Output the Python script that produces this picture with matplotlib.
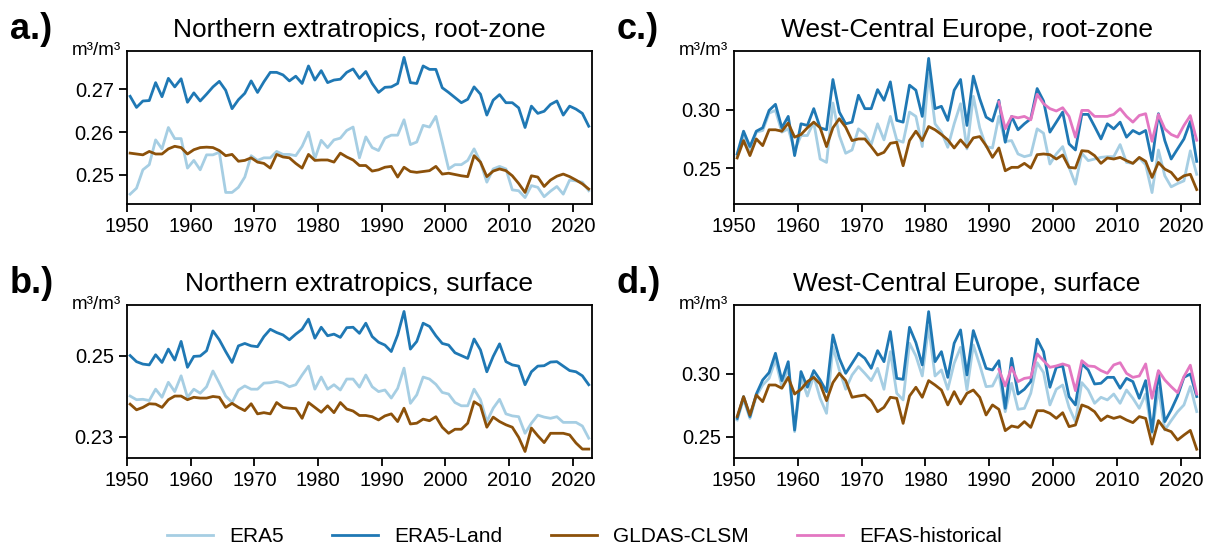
import matplotlib
matplotlib.use('Agg')
import matplotlib.pyplot as plt
import numpy as np
from matplotlib.ticker import FormatStrFormatter

plt.rcParams['font.family'] = ['Liberation Sans', 'DejaVu Sans']

years = np.arange(1950, 2023)
efas_years = np.arange(1991, 2023)

# a.) Northern extratropics, root-zone
ne_rz_era5 = [0.2455, 0.2469, 0.2512, 0.2524, 0.2582, 0.2561, 0.2611, 0.2585, 0.2585, 0.2516,
              0.2534, 0.2512, 0.2547, 0.2547, 0.2553, 0.2459, 0.2459, 0.2471, 0.2495, 0.2545,
              0.2534, 0.2540, 0.2540, 0.2555, 0.2548, 0.2548, 0.2545, 0.2567, 0.2600, 0.2538,
              0.2581, 0.2564, 0.2582, 0.2586, 0.2604, 0.2612, 0.2540, 0.2589, 0.2564, 0.2557,
              0.2586, 0.2593, 0.2593, 0.2629, 0.2571, 0.2577, 0.2616, 0.2612, 0.2637, 0.2577,
              0.2514, 0.2524, 0.2524, 0.2534, 0.2561, 0.2530, 0.2483, 0.2514, 0.2520, 0.2514,
              0.2465, 0.2463, 0.2447, 0.2475, 0.2471, 0.2449, 0.2462, 0.2473, 0.2455, 0.2488,
              0.2486, 0.2483, 0.2463]
ne_rz_land = [0.2684, 0.2658, 0.2673, 0.2674, 0.2716, 0.2683, 0.2726, 0.2706, 0.2725, 0.2670,
              0.2692, 0.2673, 0.2689, 0.2706, 0.2719, 0.2698, 0.2655, 0.2676, 0.2691, 0.2720,
              0.2693, 0.2718, 0.2740, 0.2740, 0.2734, 0.2720, 0.2731, 0.2714, 0.2755, 0.2722,
              0.2744, 0.2716, 0.2722, 0.2724, 0.2740, 0.2748, 0.2726, 0.2742, 0.2714, 0.2693,
              0.2705, 0.2706, 0.2714, 0.2775, 0.2716, 0.2714, 0.2755, 0.2747, 0.2747, 0.2704,
              0.2693, 0.2681, 0.2669, 0.2677, 0.2706, 0.2689, 0.2640, 0.2675, 0.2688, 0.2669,
              0.2669, 0.2657, 0.2611, 0.2661, 0.2644, 0.2649, 0.2665, 0.2673, 0.2640, 0.2661,
              0.2654, 0.2644, 0.2614]
ne_rz_gldas = [0.2551, 0.2549, 0.2547, 0.2555, 0.2549, 0.2549, 0.2561, 0.2567, 0.2564, 0.2549,
               0.2559, 0.2564, 0.2565, 0.2564, 0.2557, 0.2545, 0.2548, 0.2532, 0.2534, 0.2540,
               0.2530, 0.2527, 0.2516, 0.2548, 0.2542, 0.2540, 0.2527, 0.2516, 0.2548, 0.2534,
               0.2535, 0.2535, 0.2530, 0.2551, 0.2542, 0.2535, 0.2522, 0.2522, 0.2509, 0.2512,
               0.2518, 0.2520, 0.2495, 0.2518, 0.2508, 0.2506, 0.2508, 0.2510, 0.2520, 0.2502,
               0.2504, 0.2501, 0.2498, 0.2496, 0.2545, 0.2530, 0.2496, 0.2509, 0.2514, 0.2510,
               0.2498, 0.2480, 0.2459, 0.2498, 0.2495, 0.2473, 0.2488, 0.2497, 0.2502, 0.2496,
               0.2488, 0.2479, 0.2467]

# b.) Northern extratropics, surface
ne_sf_era5 = [0.2400, 0.2391, 0.2392, 0.2389, 0.2417, 0.2397, 0.2434, 0.2411, 0.2450, 0.2397,
              0.2417, 0.2407, 0.2423, 0.2462, 0.2432, 0.2400, 0.2384, 0.2415, 0.2425, 0.2417,
              0.2417, 0.2432, 0.2433, 0.2436, 0.2432, 0.2423, 0.2428, 0.2452, 0.2474, 0.2417,
              0.2447, 0.2417, 0.2428, 0.2415, 0.2442, 0.2442, 0.2422, 0.2452, 0.2423, 0.2411,
              0.2415, 0.2395, 0.2419, 0.2469, 0.2382, 0.2403, 0.2447, 0.2442, 0.2429, 0.2409,
              0.2405, 0.2384, 0.2376, 0.2376, 0.2417, 0.2391, 0.2337, 0.2370, 0.2392, 0.2356,
              0.2351, 0.2349, 0.2308, 0.2333, 0.2353, 0.2348, 0.2345, 0.2349, 0.2335, 0.2335,
              0.2335, 0.2326, 0.2296]
ne_sf_land = [0.2500, 0.2485, 0.2479, 0.2477, 0.2502, 0.2483, 0.2516, 0.2489, 0.2535, 0.2471,
              0.2498, 0.2499, 0.2512, 0.2561, 0.2539, 0.2510, 0.2483, 0.2524, 0.2530, 0.2524,
              0.2522, 0.2547, 0.2565, 0.2557, 0.2551, 0.2539, 0.2553, 0.2565, 0.2590, 0.2543,
              0.2570, 0.2549, 0.2553, 0.2545, 0.2569, 0.2570, 0.2555, 0.2580, 0.2547, 0.2533,
              0.2526, 0.2510, 0.2551, 0.2609, 0.2516, 0.2535, 0.2580, 0.2572, 0.2549, 0.2530,
              0.2526, 0.2507, 0.2500, 0.2493, 0.2541, 0.2514, 0.2460, 0.2498, 0.2529, 0.2485,
              0.2477, 0.2474, 0.2428, 0.2460, 0.2474, 0.2475, 0.2484, 0.2485, 0.2474, 0.2463,
              0.2460, 0.2450, 0.2428]
ne_sf_gldas = [0.2380, 0.2366, 0.2372, 0.2381, 0.2380, 0.2372, 0.2391, 0.2400, 0.2400, 0.2391,
               0.2397, 0.2395, 0.2395, 0.2399, 0.2397, 0.2372, 0.2382, 0.2372, 0.2364, 0.2381,
               0.2356, 0.2359, 0.2356, 0.2384, 0.2372, 0.2370, 0.2369, 0.2345, 0.2384, 0.2372,
               0.2360, 0.2376, 0.2359, 0.2384, 0.2368, 0.2363, 0.2352, 0.2352, 0.2349, 0.2341,
               0.2351, 0.2356, 0.2337, 0.2370, 0.2331, 0.2333, 0.2343, 0.2339, 0.2349, 0.2323,
               0.2308, 0.2318, 0.2318, 0.2333, 0.2386, 0.2376, 0.2323, 0.2348, 0.2337, 0.2329,
               0.2323, 0.2298, 0.2263, 0.2321, 0.2302, 0.2285, 0.2308, 0.2308, 0.2308, 0.2304,
               0.2284, 0.2269, 0.2269]

# c.) West-Central Europe, root-zone
wce_rz_era5 = [0.2609, 0.2780, 0.2651, 0.2809, 0.2823, 0.2971, 0.2994, 0.2809, 0.2837, 0.2651,
               0.2780, 0.2780, 0.2894, 0.2580, 0.2551, 0.3057, 0.2780, 0.2629, 0.2657, 0.2837,
               0.2794, 0.2703, 0.2880, 0.2743, 0.2943, 0.2743, 0.2723, 0.2980, 0.2943, 0.2686,
               0.3309, 0.2880, 0.2809, 0.2680, 0.2880, 0.3051, 0.2666, 0.3114, 0.2846, 0.2686,
               0.2674, 0.2943, 0.2729, 0.2737, 0.2623, 0.2600, 0.2614, 0.2837, 0.2800, 0.2537,
               0.2623, 0.2686, 0.2509, 0.2366, 0.2629, 0.2566, 0.2580, 0.2594, 0.2600, 0.2600,
               0.2703, 0.2551, 0.2543, 0.2589, 0.2531, 0.2294, 0.2657, 0.2437, 0.2343, 0.2371,
               0.2394, 0.2650, 0.2450]
wce_rz_land = [0.2623, 0.2817, 0.2686, 0.2817, 0.2846, 0.2994, 0.3046, 0.2846, 0.2943, 0.2609,
               0.2880, 0.2866, 0.3009, 0.2846, 0.2829, 0.3257, 0.2980, 0.2880, 0.2894, 0.3123,
               0.3009, 0.3009, 0.3171, 0.3080, 0.3237, 0.2909, 0.2894, 0.3209, 0.3166, 0.2943,
               0.3437, 0.3009, 0.3029, 0.2909, 0.3166, 0.3257, 0.2866, 0.3286, 0.3094, 0.2937,
               0.2903, 0.3080, 0.2723, 0.2943, 0.2829, 0.2880, 0.2923, 0.3180, 0.3074, 0.2809,
               0.2894, 0.2980, 0.2709, 0.2657, 0.2960, 0.2960, 0.2857, 0.2751, 0.2880, 0.2837,
               0.2894, 0.2766, 0.2823, 0.2794, 0.2823, 0.2566, 0.2966, 0.2737, 0.2580, 0.2666,
               0.2751, 0.2900, 0.2560]
wce_rz_gldas = [0.2589, 0.2737, 0.2609, 0.2751, 0.2694, 0.2829, 0.2829, 0.2817, 0.2886, 0.2766,
                0.2789, 0.2846, 0.2894, 0.2846, 0.2686, 0.2846, 0.2923, 0.2851, 0.2737, 0.2751,
                0.2751, 0.2686, 0.2614, 0.2637, 0.2714, 0.2723, 0.2523, 0.2737, 0.2817, 0.2737,
                0.2857, 0.2829, 0.2789, 0.2743, 0.2674, 0.2743, 0.2680, 0.2760, 0.2771, 0.2694,
                0.2594, 0.2674, 0.2480, 0.2509, 0.2509, 0.2543, 0.2503, 0.2617, 0.2623, 0.2617,
                0.2580, 0.2614, 0.2509, 0.2503, 0.2651, 0.2646, 0.2609, 0.2543, 0.2589, 0.2580,
                0.2594, 0.2566, 0.2543, 0.2594, 0.2560, 0.2423, 0.2551, 0.2494, 0.2466, 0.2400,
                0.2437, 0.2450, 0.2320]
wce_rz_efas = [0.3066, 0.2837, 0.2943, 0.2931, 0.2943, 0.2914, 0.3131, 0.3051, 0.3009, 0.2989,
               0.3017, 0.2943, 0.2766, 0.2994, 0.2994, 0.2943, 0.2943, 0.2943, 0.2960, 0.3009,
               0.2943, 0.2894, 0.2951, 0.2966, 0.2731, 0.2960, 0.2837, 0.2789, 0.2766, 0.2866,
               0.2950, 0.2740]

# d.) West-Central Europe, surface
wce_sf_era5 = [0.2633, 0.2798, 0.2646, 0.2824, 0.2912, 0.2965, 0.3112, 0.2899, 0.3053, 0.2540,
               0.2973, 0.2824, 0.2984, 0.2806, 0.2686, 0.3218, 0.3032, 0.2878, 0.2992, 0.3059,
               0.3005, 0.2947, 0.3045, 0.2878, 0.3178, 0.2846, 0.2793, 0.3245, 0.3144, 0.2984,
               0.3378, 0.2984, 0.3032, 0.2878, 0.3085, 0.3213, 0.2872, 0.3231, 0.3072, 0.2899,
               0.2904, 0.3005, 0.2699, 0.2926, 0.2718, 0.2726, 0.2846, 0.3090, 0.3011, 0.2753,
               0.2878, 0.2912, 0.2734, 0.2620, 0.2931, 0.2872, 0.2766, 0.2814, 0.2793, 0.2840,
               0.2766, 0.2872, 0.2806, 0.2726, 0.2840, 0.2527, 0.2886, 0.2553, 0.2628, 0.2699,
               0.2753, 0.2900, 0.2700]
wce_sf_land = [0.2646, 0.2819, 0.2660, 0.2840, 0.2952, 0.3011, 0.3165, 0.2947, 0.3098, 0.2553,
               0.3019, 0.2894, 0.3027, 0.2952, 0.2859, 0.3311, 0.3125, 0.3005, 0.3085, 0.3165,
               0.3125, 0.3045, 0.3186, 0.3098, 0.3338, 0.2965, 0.2957, 0.3372, 0.3250, 0.3072,
               0.3497, 0.3098, 0.3178, 0.2973, 0.3245, 0.3351, 0.2992, 0.3346, 0.3197, 0.3045,
               0.3032, 0.3106, 0.2726, 0.3125, 0.2840, 0.2878, 0.2939, 0.3277, 0.3178, 0.2894,
               0.3053, 0.3064, 0.2819, 0.2753, 0.3080, 0.3032, 0.2920, 0.2926, 0.2973, 0.2973,
               0.2886, 0.2965, 0.2939, 0.2806, 0.2947, 0.2540, 0.3019, 0.2620, 0.2713, 0.2824,
               0.2973, 0.3000, 0.2820]
wce_sf_gldas = [0.2660, 0.2819, 0.2673, 0.2832, 0.2779, 0.2912, 0.2912, 0.2886, 0.2973, 0.2840,
                0.2878, 0.2939, 0.2973, 0.2920, 0.2787, 0.2931, 0.3005, 0.2947, 0.2814, 0.2824,
                0.2832, 0.2787, 0.2699, 0.2734, 0.2814, 0.2806, 0.2606, 0.2824, 0.2894, 0.2814,
                0.2947, 0.2912, 0.2872, 0.2753, 0.2859, 0.2761, 0.2846, 0.2872, 0.2814, 0.2673,
                0.2753, 0.2718, 0.2548, 0.2585, 0.2574, 0.2620, 0.2574, 0.2707, 0.2707, 0.2686,
                0.2646, 0.2691, 0.2580, 0.2593, 0.2753, 0.2734, 0.2699, 0.2628, 0.2665, 0.2646,
                0.2660, 0.2633, 0.2612, 0.2660, 0.2646, 0.2441, 0.2628, 0.2559, 0.2540, 0.2473,
                0.2513, 0.2550, 0.2400]
wce_sf_efas = [0.3037, 0.2904, 0.3053, 0.2939, 0.2965, 0.2973, 0.3160, 0.3106, 0.3053, 0.3064,
               0.3080, 0.3064, 0.2867, 0.3106, 0.3064, 0.3059, 0.3027, 0.3005, 0.3072, 0.3090,
               0.3005, 0.2973, 0.2984, 0.3080, 0.2806, 0.3027, 0.2952, 0.2899, 0.2851, 0.2979,
               0.3070, 0.2840]

c_era5 = '#a6cee3'
c_land = '#1f78b4'
c_gldas = '#8c510a'
c_efas = '#e377c2'


def draw_panel(ax, title, letter, era5, land, gldas, efas, ylim, yticks):
	x = years + 0.5
	ax.plot(x, era5, color=c_era5, lw=2, label='ERA5')
	ax.plot(x, land, color=c_land, lw=2, label='ERA5-Land')
	ax.plot(x, gldas, color=c_gldas, lw=2, label='GLDAS-CLSM')
	if efas is not None:
		ax.plot(efas_years + 0.5, efas, color=c_efas, lw=2, label='EFAS-historical')
	ax.set_xlim(1950, 2023)
	ax.set_ylim(*ylim)
	ax.set_xticks(np.arange(1950, 2021, 10))
	ax.set_yticks(yticks)
	ax.yaxis.set_major_formatter(FormatStrFormatter('%.2f'))
	ax.tick_params(labelsize=14.5, length=6, width=1.3)
	for s in ax.spines.values():
		s.set_linewidth(1.3)
	ax.set_title(title, fontsize=19, pad=10)
	ax.text(-0.012, 1.0, 'm³/m³', transform=ax.transAxes, ha='right', va='center', fontsize=13.5)
	ax.text(-0.252, 1.14, letter, transform=ax.transAxes, ha='left', va='center',
			fontsize=26, fontweight='bold')


fig = plt.figure(figsize=(12.08, 5.46), dpi=100)
ax1 = fig.add_axes([0.1051, 0.6264, 0.3849, 0.2802])
ax2 = fig.add_axes([0.1051, 0.1612, 0.3849, 0.2802])
ax3 = fig.add_axes([0.6076, 0.6264, 0.3857, 0.2802])
ax4 = fig.add_axes([0.6076, 0.1612, 0.3857, 0.2802])

draw_panel(ax1, 'Northern extratropics, root-zone', 'a.)', ne_rz_era5, ne_rz_land, ne_rz_gldas, None,
		   (0.2432, 0.279), [0.25, 0.26, 0.27])
draw_panel(ax2, 'Northern extratropics, surface', 'b.)', ne_sf_era5, ne_sf_land, ne_sf_gldas, None,
		   (0.2247, 0.2625), [0.23, 0.25])
draw_panel(ax3, 'West-Central Europe, root-zone', 'c.)', wce_rz_era5, wce_rz_land, wce_rz_gldas, wce_rz_efas,
		   (0.2197, 0.35), [0.25, 0.30])
draw_panel(ax4, 'West-Central Europe, surface', 'd.)', wce_sf_era5, wce_sf_land, wce_sf_gldas, wce_sf_efas,
		   (0.233, 0.355), [0.25, 0.30])

handles, labels = ax3.get_legend_handles_labels()
fig.legend(handles, labels, loc='lower center', bbox_to_anchor=(0.484, -0.035), ncol=4, frameon=False,
		   fontsize=15, handlelength=2.2, handletextpad=0.8, columnspacing=2.3)

fig.savefig('out.png', dpi=100)
